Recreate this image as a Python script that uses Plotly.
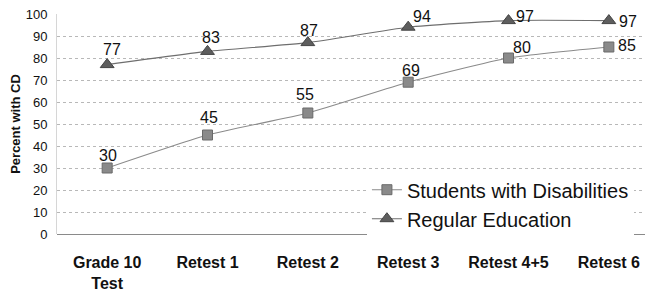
import plotly.graph_objects as go

categories = ["Grade 10<br>Test", "Retest 1", "Retest 2", "Retest 3", "Retest 4+5", "Retest 6"]
swd = [30, 45, 55, 69, 80, 85]
reg = [77, 83, 87, 94, 97, 97]

# label offsets in pixels (style only)
swd_dx = [1, 1, -3, 3, 13, 18]
swd_dy = [13, 18, 19, 12, 11, 2]
reg_dx = [5, 3, 1, 14, 16, 19]
reg_dy = [15, 14, 12, 11, 4, -1]

x = list(range(len(categories)))
fig = go.Figure()
fig.add_trace(go.Scatter(
    x=x, y=swd, name="Students with Disabilities", mode="lines+markers",
    line=dict(color="#8a8a8a", width=1.1, shape="spline", smoothing=0.5),
    marker=dict(symbol="square", size=10, color="#8a8a8a", line=dict(color="#6a6a6a", width=1)),
))
fig.add_trace(go.Scatter(
    x=x, y=reg, name="Regular Education", mode="lines+markers",
    line=dict(color="#6e6e6e", width=1.1, shape="spline", smoothing=0.5),
    marker=dict(symbol="triangle-up", size=12, color="#5e5e5e", line=dict(color="#444", width=1)),
))
for xs, ys, dxs, dys in [(x, swd, swd_dx, swd_dy), (x, reg, reg_dx, reg_dy)]:
    for xi, yi, dx, dy in zip(xs, ys, dxs, dys):
        fig.add_annotation(x=xi, y=yi, text=str(yi), showarrow=False,
                           xshift=dx, yshift=dy,
                           font=dict(family="Liberation Sans, Arial", size=16, color="#111"))

fig.update_layout(
    width=645, height=287,
    margin=dict(l=49, r=0, t=6, b=61),
    paper_bgcolor="white", plot_bgcolor="white",
    font=dict(family="Liberation Sans, Arial", color="#111"),
    showlegend=True,
    legend=dict(x=0.52, y=0.29, xanchor="left", yanchor="top",
                bgcolor="rgba(255,255,255,1)", font=dict(size=20), tracegroupgap=0,
                itemwidth=30),
    xaxis=dict(
        tickmode="array", tickvals=x, ticktext=categories,
        range=[-0.5, 5.44], showgrid=False, zeroline=False, automargin=False,
        ticks="", ticklabelstandoff=17,
        tickfont=dict(size=16, family="Liberation Sans, Arial", weight="bold"),
        showline=False,
    ),
    yaxis=dict(
        range=[0, 100], dtick=10, showgrid=True, automargin=False,
        gridcolor="#b8b8b8", griddash="dot", gridwidth=1,
        zeroline=True, zerolinecolor="#8a8a8a", zerolinewidth=1.2,
        tickfont=dict(size=13), ticks="", ticklabelstandoff=6,
        ticklabeloverflow="allow",
        showline=True, linecolor="#d6d6d6", linewidth=1, mirror=False,
        title=dict(text="<b>Percent with CD</b>", font=dict(size=13), standoff=11),
    ),
)
fig.write_html("out.html")
